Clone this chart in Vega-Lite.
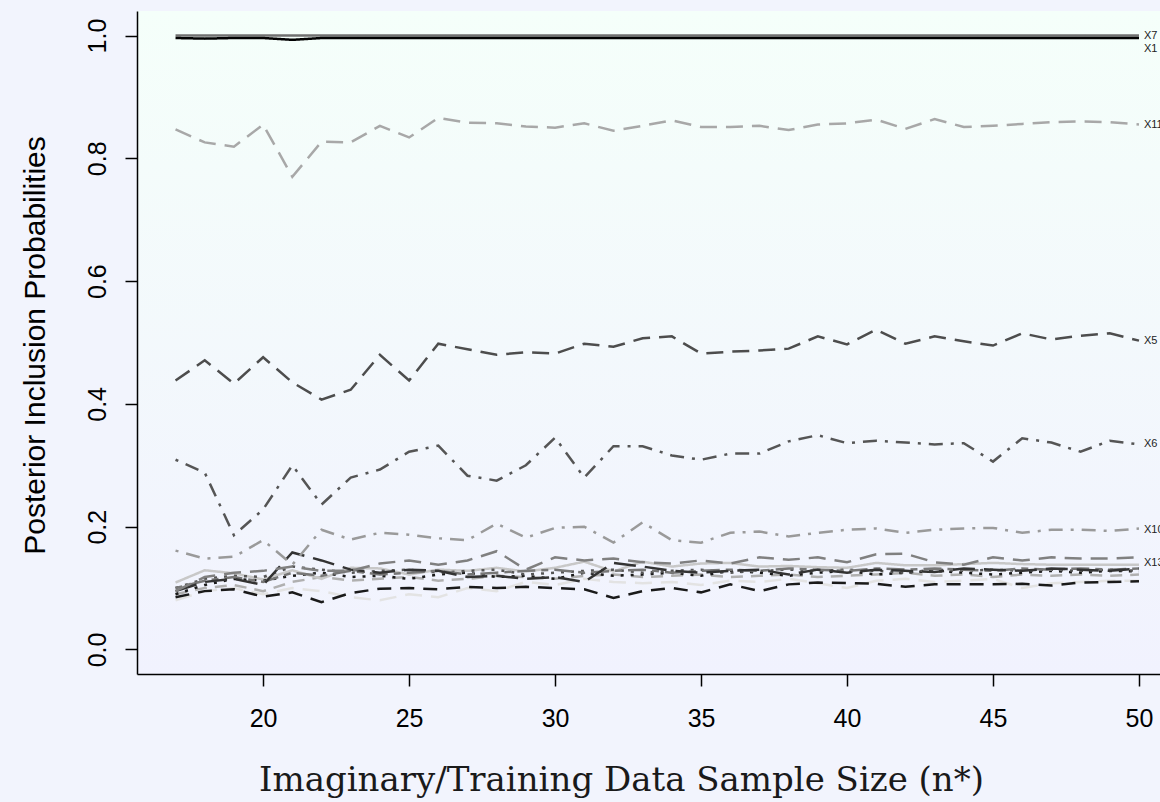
{
  "$schema": "https://vega.github.io/schema/vega-lite/v6.json",
  "width": 1023,
  "height": 663,
  "autosize": {"type": "none"},
  "padding": {"left": 137, "top": 11, "right": 0, "bottom": 128},
  "background": "#f2f4fd",
  "config": {
    "view": {
      "stroke": null,
      "fill": {"gradient": "linear", "x1": 0, "y1": 0, "x2": 0, "y2": 1,
        "stops": [{"offset": 0, "color": "#f5fffa"}, {"offset": 1, "color": "#f1f2fe"}]}
    }
  },
  "datasets": {
    "pip": [
      {"n":17,"X1":0.996,"X2":0.109,"X3":0.085,"X4":0.095,"X5":0.438,"X6":0.309,"X7":1.0,"X8":0.090,"X9":0.100,"X10":0.161,"X11":0.847,"X12":0.080,"X13":0.095,"X14":0.090,"X15":0.100},
      {"n":18,"X1":0.995,"X2":0.129,"X3":0.095,"X4":0.110,"X5":0.471,"X6":0.288,"X7":1.0,"X8":0.105,"X9":0.115,"X10":0.148,"X11":0.826,"X12":0.095,"X13":0.118,"X14":0.100,"X15":0.112},
      {"n":19,"X1":0.996,"X2":0.124,"X3":0.098,"X4":0.115,"X5":0.433,"X6":0.186,"X7":1.0,"X8":0.115,"X9":0.120,"X10":0.151,"X11":0.819,"X12":0.100,"X13":0.125,"X14":0.105,"X15":0.118},
      {"n":20,"X1":0.996,"X2":0.114,"X3":0.086,"X4":0.105,"X5":0.476,"X6":0.228,"X7":1.0,"X8":0.112,"X9":0.118,"X10":0.178,"X11":0.855,"X12":0.090,"X13":0.128,"X14":0.095,"X15":0.110},
      {"n":21,"X1":0.993,"X2":0.129,"X3":0.093,"X4":0.158,"X5":0.435,"X6":0.300,"X7":1.0,"X8":0.120,"X9":0.135,"X10":0.138,"X11":0.770,"X12":0.100,"X13":0.135,"X14":0.110,"X15":0.125},
      {"n":22,"X1":0.996,"X2":0.115,"X3":0.077,"X4":0.145,"X5":0.407,"X6":0.236,"X7":1.0,"X8":0.125,"X9":0.130,"X10":0.195,"X11":0.827,"X12":0.095,"X13":0.128,"X14":0.118,"X15":0.120},
      {"n":23,"X1":0.996,"X2":0.133,"X3":0.092,"X4":0.130,"X5":0.423,"X6":0.280,"X7":1.0,"X8":0.118,"X9":0.125,"X10":0.179,"X11":0.826,"X12":0.085,"X13":0.128,"X14":0.112,"X15":0.128},
      {"n":24,"X1":0.996,"X2":0.132,"X3":0.099,"X4":0.125,"X5":0.480,"X6":0.293,"X7":1.0,"X8":0.120,"X9":0.128,"X10":0.190,"X11":0.853,"X12":0.080,"X13":0.140,"X14":0.115,"X15":0.122},
      {"n":25,"X1":0.996,"X2":0.122,"X3":0.100,"X4":0.130,"X5":0.438,"X6":0.322,"X7":1.0,"X8":0.115,"X9":0.130,"X10":0.187,"X11":0.834,"X12":0.090,"X13":0.145,"X14":0.118,"X15":0.125},
      {"n":26,"X1":0.996,"X2":0.130,"X3":0.098,"X4":0.128,"X5":0.498,"X6":0.332,"X7":1.0,"X8":0.122,"X9":0.125,"X10":0.181,"X11":0.866,"X12":0.085,"X13":0.138,"X14":0.112,"X15":0.128},
      {"n":27,"X1":0.996,"X2":0.128,"X3":0.102,"X4":0.118,"X5":0.489,"X6":0.283,"X7":1.0,"X8":0.125,"X9":0.128,"X10":0.178,"X11":0.858,"X12":0.100,"X13":0.145,"X14":0.115,"X15":0.122},
      {"n":28,"X1":0.996,"X2":0.133,"X3":0.100,"X4":0.120,"X5":0.480,"X6":0.275,"X7":1.0,"X8":0.118,"X9":0.130,"X10":0.205,"X11":0.857,"X12":0.095,"X13":0.160,"X14":0.120,"X15":0.125},
      {"n":29,"X1":0.996,"X2":0.127,"X3":0.102,"X4":0.115,"X5":0.484,"X6":0.300,"X7":1.0,"X8":0.120,"X9":0.122,"X10":0.182,"X11":0.852,"X12":0.110,"X13":0.130,"X14":0.118,"X15":0.128},
      {"n":30,"X1":0.996,"X2":0.133,"X3":0.100,"X4":0.118,"X5":0.482,"X6":0.345,"X7":1.0,"X8":0.115,"X9":0.125,"X10":0.198,"X11":0.850,"X12":0.105,"X13":0.150,"X14":0.115,"X15":0.130},
      {"n":31,"X1":0.996,"X2":0.143,"X3":0.098,"X4":0.110,"X5":0.498,"X6":0.280,"X7":1.0,"X8":0.125,"X9":0.128,"X10":0.200,"X11":0.857,"X12":0.115,"X13":0.145,"X14":0.120,"X15":0.125},
      {"n":32,"X1":0.996,"X2":0.127,"X3":0.084,"X4":0.141,"X5":0.493,"X6":0.331,"X7":1.0,"X8":0.120,"X9":0.130,"X10":0.174,"X11":0.845,"X12":0.110,"X13":0.148,"X14":0.122,"X15":0.128},
      {"n":33,"X1":0.996,"X2":0.143,"X3":0.095,"X4":0.135,"X5":0.507,"X6":0.331,"X7":1.0,"X8":0.122,"X9":0.125,"X10":0.207,"X11":0.853,"X12":0.108,"X13":0.142,"X14":0.118,"X15":0.130},
      {"n":34,"X1":0.996,"X2":0.135,"X3":0.100,"X4":0.128,"X5":0.510,"X6":0.316,"X7":1.0,"X8":0.125,"X9":0.128,"X10":0.178,"X11":0.862,"X12":0.110,"X13":0.140,"X14":0.120,"X15":0.125},
      {"n":35,"X1":0.996,"X2":0.140,"X3":0.093,"X4":0.125,"X5":0.482,"X6":0.309,"X7":1.0,"X8":0.120,"X9":0.130,"X10":0.174,"X11":0.851,"X12":0.105,"X13":0.145,"X14":0.122,"X15":0.128},
      {"n":36,"X1":0.996,"X2":0.141,"X3":0.106,"X4":0.128,"X5":0.485,"X6":0.319,"X7":1.0,"X8":0.128,"X9":0.125,"X10":0.190,"X11":0.851,"X12":0.112,"X13":0.140,"X14":0.118,"X15":0.130},
      {"n":37,"X1":0.996,"X2":0.135,"X3":0.095,"X4":0.130,"X5":0.487,"X6":0.319,"X7":1.0,"X8":0.125,"X9":0.128,"X10":0.192,"X11":0.853,"X12":0.110,"X13":0.150,"X14":0.120,"X15":0.128},
      {"n":38,"X1":0.996,"X2":0.136,"X3":0.106,"X4":0.122,"X5":0.490,"X6":0.339,"X7":1.0,"X8":0.120,"X9":0.130,"X10":0.184,"X11":0.846,"X12":0.115,"X13":0.146,"X14":0.122,"X15":0.132},
      {"n":39,"X1":0.996,"X2":0.134,"X3":0.109,"X4":0.130,"X5":0.510,"X6":0.349,"X7":1.0,"X8":0.125,"X9":0.128,"X10":0.190,"X11":0.855,"X12":0.108,"X13":0.150,"X14":0.118,"X15":0.130},
      {"n":40,"X1":0.996,"X2":0.133,"X3":0.108,"X4":0.125,"X5":0.497,"X6":0.336,"X7":1.0,"X8":0.128,"X9":0.130,"X10":0.195,"X11":0.857,"X12":0.100,"X13":0.142,"X14":0.120,"X15":0.128},
      {"n":41,"X1":0.996,"X2":0.141,"X3":0.107,"X4":0.130,"X5":0.521,"X6":0.340,"X7":1.0,"X8":0.122,"X9":0.128,"X10":0.197,"X11":0.863,"X12":0.112,"X13":0.155,"X14":0.122,"X15":0.132},
      {"n":42,"X1":0.996,"X2":0.137,"X3":0.102,"X4":0.128,"X5":0.498,"X6":0.337,"X7":1.0,"X8":0.125,"X9":0.125,"X10":0.190,"X11":0.848,"X12":0.115,"X13":0.156,"X14":0.125,"X15":0.130},
      {"n":43,"X1":0.996,"X2":0.137,"X3":0.106,"X4":0.126,"X5":0.510,"X6":0.334,"X7":1.0,"X8":0.128,"X9":0.130,"X10":0.195,"X11":0.864,"X12":0.110,"X13":0.142,"X14":0.120,"X15":0.132},
      {"n":44,"X1":0.996,"X2":0.139,"X3":0.106,"X4":0.132,"X5":0.502,"X6":0.336,"X7":1.0,"X8":0.125,"X9":0.128,"X10":0.197,"X11":0.851,"X12":0.112,"X13":0.138,"X14":0.122,"X15":0.130},
      {"n":45,"X1":0.996,"X2":0.141,"X3":0.106,"X4":0.130,"X5":0.495,"X6":0.306,"X7":1.0,"X8":0.122,"X9":0.130,"X10":0.198,"X11":0.853,"X12":0.115,"X13":0.150,"X14":0.118,"X15":0.128},
      {"n":46,"X1":0.996,"X2":0.139,"X3":0.107,"X4":0.128,"X5":0.515,"X6":0.344,"X7":1.0,"X8":0.125,"X9":0.128,"X10":0.190,"X11":0.856,"X12":0.100,"X13":0.145,"X14":0.122,"X15":0.132},
      {"n":47,"X1":0.996,"X2":0.138,"X3":0.104,"X4":0.132,"X5":0.505,"X6":0.337,"X7":1.0,"X8":0.128,"X9":0.130,"X10":0.195,"X11":0.859,"X12":0.108,"X13":0.150,"X14":0.120,"X15":0.130},
      {"n":48,"X1":0.996,"X2":0.138,"X3":0.109,"X4":0.130,"X5":0.511,"X6":0.322,"X7":1.0,"X8":0.125,"X9":0.128,"X10":0.195,"X11":0.860,"X12":0.110,"X13":0.148,"X14":0.122,"X15":0.132},
      {"n":49,"X1":0.996,"X2":0.138,"X3":0.110,"X4":0.128,"X5":0.515,"X6":0.340,"X7":1.0,"X8":0.128,"X9":0.130,"X10":0.193,"X11":0.859,"X12":0.112,"X13":0.148,"X14":0.120,"X15":0.130},
      {"n":50,"X1":0.996,"X2":0.138,"X3":0.111,"X4":0.132,"X5":0.503,"X6":0.334,"X7":1.0,"X8":0.127,"X9":0.128,"X10":0.197,"X11":0.855,"X12":0.112,"X13":0.150,"X14":0.122,"X15":0.132}
    ],
    "labels": [
      {"lab":"X7","n":50,"p":1.0},
      {"lab":"X1","n":50,"p":0.978},
      {"lab":"X11","n":50,"p":0.855},
      {"lab":"X5","n":50,"p":0.502},
      {"lab":"X6","n":50,"p":0.335},
      {"lab":"X10","n":50,"p":0.195},
      {"lab":"X13","n":50,"p":0.141}
    ]
  },
  "layer": [
    {
      "data": {"name": "pip"},
      "transform": [
        {"fold": ["X12","X14","X2","X3","X8","X9","X15","X4","X13","X10","X6","X5","X11","X7","X1"], "as": ["var", "p"]}
      ],
      "mark": {"type": "line", "strokeWidth": 2.5, "clip": true},
      "encoding": {
        "x": {"field": "n", "type": "quantitative",
          "scale": {"domain": [15.68, 50.72], "nice": false, "zero": false},
          "axis": {"values": [20,25,30,35,40,45,50], "grid": false, "domain": true, "domainColor": "#000000", "domainWidth": 1.5,
            "ticks": true, "tickColor": "#000000", "tickWidth": 1.5, "tickSize": 12,
            "labelFont": "Liberation Sans", "labelFontSize": 25, "labelColor": "#000000", "labelPadding": 20,
            "title": "Imaginary/Training Data Sample Size (n*)", "titleFont": "DejaVu Serif", "titleFontSize": 34,
            "titleFontWeight": "normal", "titleColor": "#1a1a1a", "titleX": 484, "titleY": 106,
            "titleAlign": "center", "titleBaseline": "middle"}},
        "y": {"field": "p", "type": "quantitative",
          "scale": {"domain": [-0.04, 1.04], "nice": false, "zero": false},
          "axis": {"values": [0,0.2,0.4,0.6,0.8,1.0], "format": ".1f", "grid": false, "domain": true, "domainColor": "#000000", "domainWidth": 1.5,
            "ticks": true, "tickColor": "#000000", "tickWidth": 1.5, "tickSize": 12,
            "labelFont": "Liberation Sans", "labelFontSize": 25, "labelColor": "#000000", "labelPadding": 20,
            "labelAngle": -90, "labelAlign": "center", "labelBaseline": "alphabetic",
            "title": "Posterior Inclusion Probabilities", "titleFont": "Liberation Sans", "titleFontSize": 30,
            "titleFontWeight": "normal", "titleColor": "#000000", "titleX": -102, "titleY": 334,
            "titleAngle": -90, "titleAlign": "center", "titleBaseline": "middle"}},
        "color": {"field": "var", "type": "nominal", "legend": null,
          "scale": {"domain": ["X1","X2","X3","X4","X5","X6","X7","X8","X9","X10","X11","X12","X13","X14","X15"],
            "range": ["#000000","#c8c8c8","#1a1a1a","#333333","#4d4d4d","#555555","#707070","#1a1a1a","#555555","#9a9a9a","#a8a8a8","#e3e3e3","#808080","#b0b0b0","#777777"]}},
        "strokeDash": {"field": "var", "type": "nominal", "legend": null,
          "scale": {"domain": ["X1","X2","X3","X4","X5","X6","X7","X8","X9","X10","X11","X12","X13","X14","X15"],
            "range": [[1,0],[1,0],[14,9],[22,9],[17,9],[3,8,14,8],[1,0],[3,7],[3,7],[3,8,14,8],[17,9],[17,9],[17,9],[12,8],[7,6,18,6]]}}
      }
    },
    {
      "data": {"name": "labels"},
      "mark": {"type": "text", "align": "left", "baseline": "middle", "dx": 5, "fontSize": 11, "font": "Liberation Sans", "color": "#222222", "clip": false},
      "encoding": {
        "x": {"field": "n", "type": "quantitative"},
        "y": {"field": "p", "type": "quantitative"},
        "text": {"field": "lab"}
      }
    }
  ]
}
